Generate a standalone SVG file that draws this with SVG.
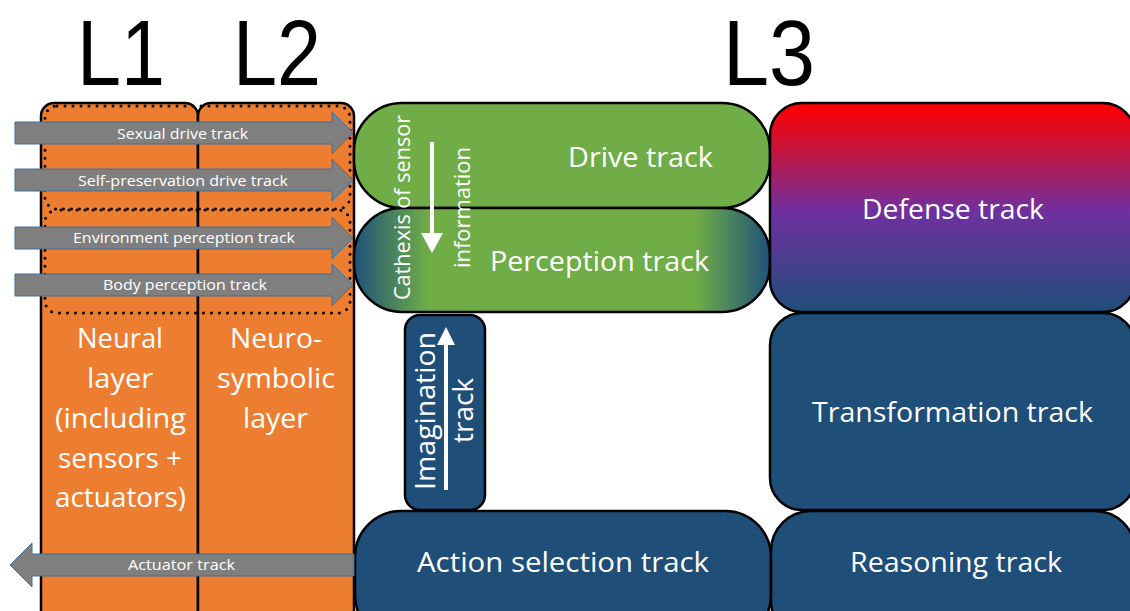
<svg xmlns="http://www.w3.org/2000/svg" width="1130" height="611" viewBox="0 0 1130 611">
<style>
.big{font-family:"Liberation Sans",Arial,sans-serif;font-size:93px;fill:#000}
.lbl{font-family:"Open Sans","Liberation Sans",sans-serif;font-size:27px;fill:#fff}
.ol{font-family:"Open Sans","Liberation Sans",sans-serif;font-size:28px;fill:#fff}
.al{font-family:"Open Sans","Liberation Sans",sans-serif;font-size:14.5px;fill:#fff}
.col{fill:#ed7d31;stroke:#000;stroke-width:2.5}
.dot{fill:none;stroke:#000;stroke-width:3;stroke-dasharray:0 8;stroke-linecap:round}
.box{stroke:#000;stroke-width:2.5}
.blue{fill:#1f4e79}
.garrow{fill:#7f7f7f;stroke:#41719c;stroke-width:1}
.warrow{stroke:#fff;stroke-width:4;fill:none}
</style>
<defs>
<linearGradient id="percGrad" x1="0" y1="0" x2="1" y2="0">
<stop offset="0" stop-color="#1f5279"/>
<stop offset="0.18" stop-color="#70ad47"/>
<stop offset="0.82" stop-color="#70ad47"/>
<stop offset="1" stop-color="#1f5279"/>
</linearGradient>
<linearGradient id="defGrad" x1="0" y1="0" x2="0" y2="1">
<stop offset="0" stop-color="#ff0000"/>
<stop offset="0.2" stop-color="#cc1236"/>
<stop offset="0.52" stop-color="#7030a0"/>
<stop offset="1" stop-color="#1f4e79"/>
</linearGradient>
</defs>

<g id="titles">
<text class="big" x="77" y="85" textLength="88" lengthAdjust="spacingAndGlyphs">L1</text>
<text class="big" x="233" y="85" textLength="88" lengthAdjust="spacingAndGlyphs">L2</text>
<text class="big" x="723" y="85" textLength="92" lengthAdjust="spacingAndGlyphs">L3</text>
</g>

<g id="neural-layer">
<rect class="col" x="41" y="103" width="157" height="530" rx="13"/>
<text class="ol" x="77" y="348" textLength="86" lengthAdjust="spacingAndGlyphs">Neural</text>
<text class="ol" x="87" y="388" textLength="66" lengthAdjust="spacingAndGlyphs">layer</text>
<text class="ol" x="55" y="428" textLength="131" lengthAdjust="spacingAndGlyphs">(including</text>
<text class="ol" x="58" y="468" textLength="124" lengthAdjust="spacingAndGlyphs">sensors +</text>
<text class="ol" x="55" y="507" textLength="131" lengthAdjust="spacingAndGlyphs">actuators)</text>
</g>

<g id="neurosymbolic-layer">
<rect class="col" x="198" y="103" width="156" height="530" rx="13"/>
<text class="ol" x="230" y="348" textLength="92" lengthAdjust="spacingAndGlyphs">Neuro-</text>
<text class="ol" x="217" y="388" textLength="118" lengthAdjust="spacingAndGlyphs">symbolic</text>
<text class="ol" x="243" y="428" textLength="65" lengthAdjust="spacingAndGlyphs">layer</text>
</g>

<g id="groupings">
<rect class="dot" x="45" y="106" width="305" height="103" rx="12"/>
<rect class="dot" x="45" y="210" width="305" height="103" rx="12" style="stroke-dashoffset:4"/>
</g>

<g id="drive-track">
<rect class="box" x="354" y="103" width="416" height="105" rx="48" fill="#70ad47"/>
<text class="lbl" x="568" y="167" textLength="145" lengthAdjust="spacingAndGlyphs">Drive track</text>
</g>

<g id="perception-track">
<rect class="box" x="354" y="208" width="416" height="104" rx="48" fill="url(#percGrad)"/>
<text class="lbl" x="490" y="271" textLength="219" lengthAdjust="spacingAndGlyphs">Perception track</text>
<text class="lbl" style="font-size:22px" transform="translate(410,300) rotate(-90)" textLength="185" lengthAdjust="spacingAndGlyphs">Cathexis of sensor</text>
<text class="lbl" style="font-size:22px" transform="translate(470,268) rotate(-90)" textLength="121" lengthAdjust="spacingAndGlyphs">information</text>
</g>

<g id="defense-track">
<rect class="box" x="770" y="103" width="365" height="209" rx="32" fill="url(#defGrad)"/>
<text class="lbl" x="862" y="219" textLength="182" lengthAdjust="spacingAndGlyphs">Defense track</text>
</g>

<g id="imagination-track">
<rect class="box blue" x="405" y="315" width="80" height="195" rx="15"/>
<text class="lbl" style="font-size:28px" transform="translate(435,490) rotate(-90)" textLength="158" lengthAdjust="spacingAndGlyphs">Imagination</text>
<text class="lbl" style="font-size:28px" transform="translate(473,443) rotate(-90)" textLength="65" lengthAdjust="spacingAndGlyphs">track</text>
</g>

<g id="transformation-track">
<rect class="box blue" x="770" y="313" width="365" height="197" rx="32"/>
<text class="lbl" x="812" y="422" textLength="281" lengthAdjust="spacingAndGlyphs">Transformation track</text>
</g>

<g id="action-selection-track">
<rect class="box blue" x="355" y="511" width="416" height="130" rx="46"/>
<text class="lbl" x="417" y="572" textLength="292" lengthAdjust="spacingAndGlyphs">Action selection track</text>
</g>

<g id="reasoning-track">
<rect class="box blue" x="771" y="511" width="364" height="130" rx="40"/>
<text class="lbl" x="850" y="572" textLength="212" lengthAdjust="spacingAndGlyphs">Reasoning track</text>
</g>

<g id="connectors">
<path class="garrow" d="M15,122 H332 V112 L353,133 L332,154 V144 H15 Z"/>
<text class="al" x="117" y="139" textLength="131" lengthAdjust="spacingAndGlyphs">Sexual drive track</text>
<path class="garrow" d="M15,169 H332 V159 L353,180 L332,201 V191 H15 Z"/>
<text class="al" x="78" y="186" textLength="210" lengthAdjust="spacingAndGlyphs">Self-preservation drive track</text>
<path class="garrow" d="M15,227 H332 V217 L353,238 L332,259 V249 H15 Z"/>
<text class="al" x="73" y="243" textLength="222" lengthAdjust="spacingAndGlyphs">Environment perception track</text>
<path class="garrow" d="M15,274 H332 V264 L353,285 L332,306 V296 H15 Z"/>
<text class="al" x="103" y="290" textLength="164" lengthAdjust="spacingAndGlyphs">Body perception track</text>
<path class="garrow" d="M354,554 H32 V543 L10,565 L32,587 V576 H354 Z"/>
<text class="al" x="128" y="570" textLength="107" lengthAdjust="spacingAndGlyphs">Actuator track</text>
<line class="warrow" x1="432" y1="142" x2="432" y2="236"/>
<polygon fill="#fff" points="421,233 443,233 432,253"/>
<line class="warrow" x1="446" y1="490" x2="446" y2="342"/>
<polygon fill="#fff" points="437,345 455,345 446,327"/>
</g>
</svg>
